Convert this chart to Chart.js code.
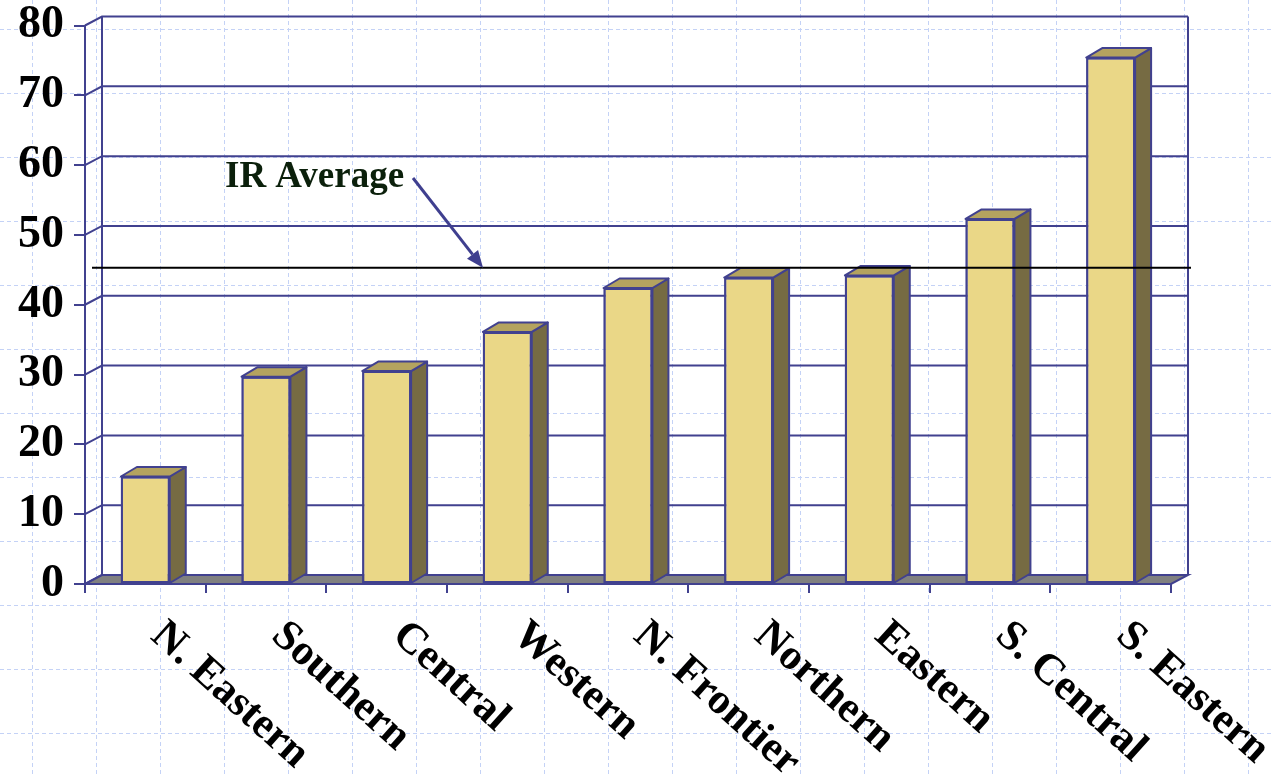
<!DOCTYPE html>
<html>
<head>
<meta charset="utf-8">
<script src="https://cdn.jsdelivr.net/npm/chart.js@4.4.1/dist/chart.umd.min.js"></script>
<style>
  html, body { margin: 0; padding: 0; background: #ffffff; }
  #wrap { width: 1274px; height: 777px; }
</style>
</head>
<body>
<div id="wrap"><canvas id="chart" width="1274" height="777"></canvas></div>
<script>
// Regions and their values
const categories = ['N. Eastern', 'Southern', 'Central', 'Western', 'N. Frontier', 'Northern', 'Eastern', 'S. Central', 'S. Eastern'];
const values = [15.4, 29.7, 30.5, 36.1, 42.4, 43.9, 44.2, 52.3, 75.4];
const yTickValues = [0, 10, 20, 30, 40, 50, 60, 70, 80];
const irAverage = 45.3;
const irLabel = 'IR Average';

// Colours
const OUTLINE = '#41418f';
const FRONT = '#ead787';
const SIDE = '#766b43';
const TOP = '#b4a35f';
const FLOOR = '#808080';
const PAGE_GRID = '#c4d2f6';

// Perspective offsets for the wall and the bars
const WALL_DX = 17, WALL_DY = -9;
const BAR_DX = 16, BAR_DY = -9.5;

const serif = '"Liberation Serif", "Times New Roman", serif';

const pageGrid = {
  id: 'pageGrid',
  beforeDraw(chart) {
    const ctx = chart.ctx;
    ctx.save();
    ctx.fillStyle = '#ffffff';
    ctx.fillRect(0, 0, chart.width, chart.height);
    ctx.strokeStyle = PAGE_GRID;
    ctx.lineWidth = 1;
    ctx.setLineDash([4, 3]);
    ctx.beginPath();
    for (let x = 32; x < chart.width; x += 64) {
      ctx.moveTo(x + 0.5, 0); ctx.lineTo(x + 0.5, chart.height);
    }
    for (let y = 29; y < chart.height; y += 64) {
      ctx.moveTo(0, y + 0.5); ctx.lineTo(chart.width, y + 0.5);
    }
    ctx.stroke();
    ctx.restore();
  }
};

const wall3d = {
  id: 'wall3d',
  beforeDatasetsDraw(chart) {
    const ctx = chart.ctx;
    const a = chart.chartArea;
    const ys = chart.scales.y;
    const left = a.left, right = a.right, bottom = a.bottom;
    ctx.save();
    ctx.strokeStyle = OUTLINE;
    ctx.lineWidth = 2;
    // back wall gridlines and side connectors
    yTickValues.forEach(v => {
      const yf = ys.getPixelForValue(v);
      ctx.beginPath();
      ctx.moveTo(left, yf);
      ctx.lineTo(left + WALL_DX, yf + WALL_DY);
      if (v > 0) ctx.lineTo(right + WALL_DX, yf + WALL_DY);
      ctx.stroke();
    });
    // back wall edges
    const topY = ys.getPixelForValue(80) + WALL_DY;
    ctx.beginPath();
    ctx.moveTo(left + WALL_DX, bottom + WALL_DY);
    ctx.lineTo(left + WALL_DX, topY);
    ctx.moveTo(right + WALL_DX, bottom + WALL_DY);
    ctx.lineTo(right + WALL_DX, topY);
    ctx.stroke();
    // floor
    ctx.beginPath();
    ctx.moveTo(left, bottom);
    ctx.lineTo(right, bottom);
    ctx.lineTo(right + WALL_DX, bottom + WALL_DY);
    ctx.lineTo(left + WALL_DX, bottom + WALL_DY);
    ctx.closePath();
    ctx.fillStyle = FLOOR;
    ctx.fill();
    ctx.stroke();
    ctx.restore();
  },
  afterDatasetsDraw(chart) {
    const ctx = chart.ctx;
    const ys = chart.scales.y;
    const meta = chart.getDatasetMeta(0);
    ctx.save();
    ctx.strokeStyle = OUTLINE;
    ctx.lineWidth = 2;
    ctx.lineJoin = 'round';
    meta.data.forEach(bar => {
      const p = bar.getProps(['x', 'y', 'base', 'width'], true);
      const l = p.x - p.width / 2, r = p.x + p.width / 2;
      const t = p.y, b = p.base;
      // side face
      ctx.beginPath();
      ctx.moveTo(r, t);
      ctx.lineTo(r + BAR_DX, t + BAR_DY);
      ctx.lineTo(r + BAR_DX, b + BAR_DY);
      ctx.lineTo(r, b);
      ctx.closePath();
      ctx.fillStyle = SIDE;
      ctx.fill();
      ctx.stroke();
      // top face
      ctx.beginPath();
      ctx.moveTo(l, t);
      ctx.lineTo(l + BAR_DX, t + BAR_DY);
      ctx.lineTo(r + BAR_DX, t + BAR_DY);
      ctx.lineTo(r, t);
      ctx.closePath();
      ctx.fillStyle = TOP;
      ctx.fill();
      ctx.stroke();
      // front outline redrawn on top
      ctx.strokeRect(l + 1, t + 1, p.width - 2, b - t - 1);
    });

    // average line
    const ya = ys.getPixelForValue(irAverage);
    ctx.strokeStyle = '#000000';
    ctx.lineWidth = 2;
    ctx.beginPath();
    ctx.moveTo(92, ya);
    ctx.lineTo(chart.chartArea.right + 20, ya);
    ctx.stroke();

    // arrow pointing at the line
    const sx = 413, sy = 178, tx = 483, ty = ya;
    const ang = Math.atan2(ty - sy, tx - sx);
    const hl = 17, hw = 7;
    const bx = tx - hl * Math.cos(ang), by = ty - hl * Math.sin(ang);
    ctx.strokeStyle = '#3f3f8f';
    ctx.fillStyle = '#3f3f8f';
    ctx.lineWidth = 3;
    ctx.beginPath();
    ctx.moveTo(sx, sy);
    ctx.lineTo(bx, by);
    ctx.stroke();
    ctx.beginPath();
    ctx.moveTo(tx, ty);
    ctx.lineTo(bx + hw * Math.sin(ang), by - hw * Math.cos(ang));
    ctx.lineTo(bx - hw * Math.sin(ang), by + hw * Math.cos(ang));
    ctx.closePath();
    ctx.fill();

    // annotation text
    ctx.fillStyle = '#0b200b';
    ctx.font = 'bold 37px ' + serif;
    ctx.textAlign = 'left';
    ctx.textBaseline = 'alphabetic';
    ctx.fillText(irLabel, 225, 187);
    ctx.restore();
  },
  afterDraw(chart) {
    // slanted category labels
    const ctx = chart.ctx;
    const xs = chart.scales.x;
    ctx.save();
    ctx.fillStyle = '#000000';
    ctx.font = 'bold 43px ' + serif;
    ctx.textAlign = 'left';
    ctx.textBaseline = 'alphabetic';
    categories.forEach((c, i) => {
      const cx = xs.getPixelForValue(i);
      ctx.save();
      ctx.translate(cx + 4, 638);
      ctx.rotate(42 * Math.PI / 180);
      ctx.fillText(c, 0, 0);
      ctx.restore();
    });
    ctx.restore();
  }
};

new Chart(document.getElementById('chart'), {
  type: 'bar',
  data: {
    labels: categories,
    datasets: [{
      data: values,
      backgroundColor: FRONT,
      borderColor: OUTLINE,
      borderWidth: 2,
      borderSkipped: false,
      categoryPercentage: 1,
      barPercentage: 0.405
    }]
  },
  plugins: [pageGrid, wall3d],
  options: {
    responsive: false,
    animation: false,
    devicePixelRatio: 1,
    layout: { padding: { top: 25.5, right: 103, left: 0, bottom: 0 } },
    plugins: { legend: { display: false }, tooltip: { enabled: false } },
    scales: {
      x: {
        offset: true,
        grid: { offset: true, drawOnChartArea: false, tickLength: 9, color: OUTLINE, lineWidth: 2 },
        border: { color: OUTLINE, width: 2 },
        ticks: { display: false },
        afterFit(s) { s.height = 193; s.paddingLeft = 0; s.paddingRight = 0; }
      },
      y: {
        min: 0,
        max: 80,
        afterBuildTicks(s) { s.ticks = yTickValues.map(v => ({ value: v })); },
        grid: { drawOnChartArea: false, tickLength: 11, color: OUTLINE, lineWidth: 2 },
        border: { color: OUTLINE, width: 2 },
        ticks: {
          color: '#000000',
          padding: 10,
          font: { family: serif, size: 46, weight: 'bold' }
        },
        afterFit(s) { s.width = 85; s.paddingTop = 0; s.paddingBottom = 0; }
      }
    }
  }
});
</script>
</body>
</html>
